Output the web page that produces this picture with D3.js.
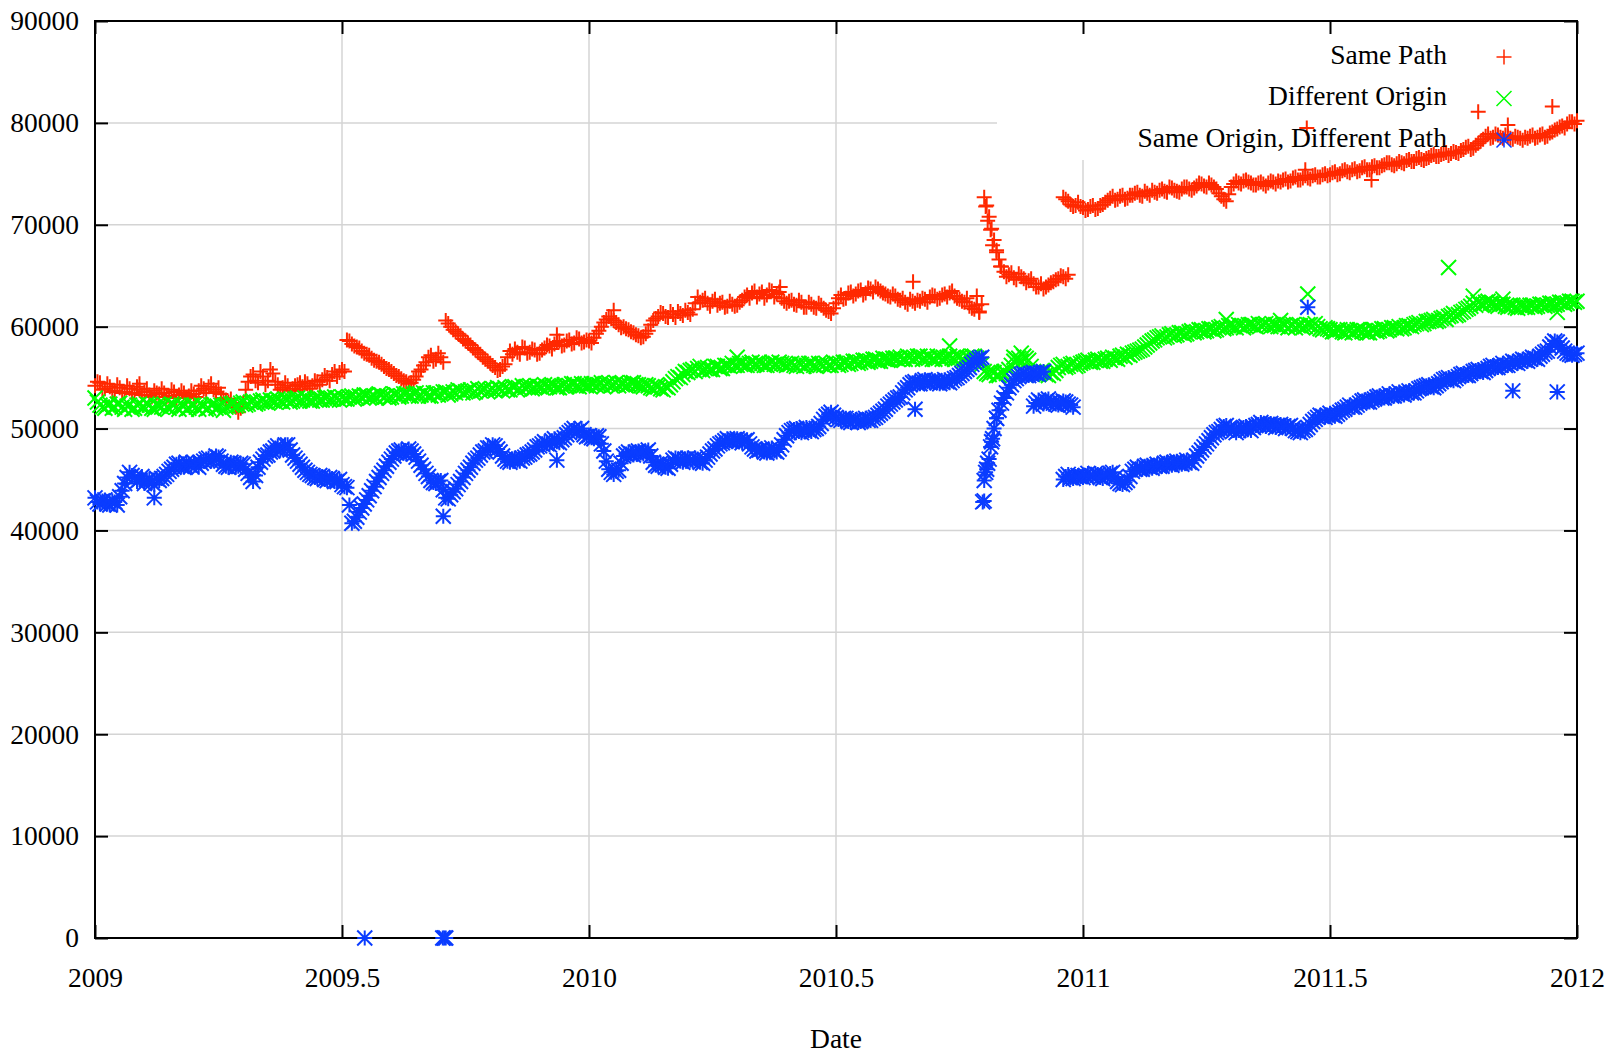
<!DOCTYPE html>
<html>
<head>
<meta charset="utf-8">
<script src="https://cdn.jsdelivr.net/npm/d3@7"></script>
<style>
  html, body { margin: 0; padding: 0; background: #fff; }
  svg { display: block; }
  text { font-family: "Liberation Serif", "DejaVu Serif", serif; fill: #000; }
</style>
</head>
<body>
<svg id="chart" width="1619" height="1052"></svg>
<script>
// runs are read every STEP years; the *Mid arrays are the readings half a step later
var STEP = 0.01;

var xTicks = [2009, 2009.5, 2010, 2010.5, 2011, 2011.5, 2012];
var yTicks = [0, 10000, 20000, 30000, 40000, 50000, 60000, 70000, 80000, 90000];

var seriesNames = ["Same Path", "Different Origin", "Same Origin, Different Path"];
var seriesColors = ["#ff2800", "#00ff00", "#0a3cff"];

// Same Path
var samePath1Start = 2009.00;
var samePath1 = [
  54200, 54500, 53900, 54100, 53700, 54000, 53600, 53900, 53500, 53800,
  53600, 53300, 53700, 53400, 53500, 53200, 53600, 53300, 53500, 53200,
  53400, 53700, 53900, 54100, 53800, 54000, 53000, 52600, 52300, 51600,
  52500, 54600, 55300, 54500, 55100, 54700, 55400, 54300, 54000, 54200,
  53900, 54300, 54100, 54400, 54200, 54600, 54800, 55000, 55300, 55100,
  55800, 58700, 58300, 58000, 57600, 57300, 56900, 56600, 56300, 55900,
  55600, 55200, 54900, 54600, 54500, 55100, 55800, 56500, 57200, 56800,
  57000, 60600, 60000, 59500, 59100, 58600, 58200, 57700, 57300, 56800,
  56400, 56000, 55800, 56300, 57600, 57800, 57300, 57900, 57500, 57700,
  57400, 57900, 58100, 58300, 58600, 58200, 58700, 58400, 58800, 58500,
  58600, 58900, 59600, 60400, 61000, 60600, 60200, 60000, 59700, 59400,
  59100, 59000, 59600, 60600, 61000, 61300, 60900, 61200, 61500, 61100,
  61400, 61700, 62900, 62600, 62300, 62500, 62100, 62400, 62000, 62200,
  62100, 62600, 63100, 63300, 62900, 63400, 63100, 63500, 63200, 62800,
  62300, 62600, 62100, 62400, 61900, 62200, 61800, 62100, 61600, 61300,
  62300, 63100, 62800, 63400, 63200, 63600, 63300, 63700, 63900, 63500,
  63200, 62900, 63000, 62600, 62400, 62700, 62300, 62500, 62700, 62900,
  63000, 62800, 63200, 63300, 63000, 62700, 62400, 62000, 61700, 61500,
  72700, 70800, 68500, 66600, 65400, 65100, 64800, 65200, 64700, 64500,
  64200, 63900, 63700, 64100, 64400, 64700, 64900, 65100
];
var samePath1Mid = [
  54600, 53800, 54400, 53600, 54300, 53500, 54200, 53400, 54100, 53300,
  53900, 53100, 53500, 53900, 53100, 53800, 53000, 53700, 53000, 53700,
  53100, 54200, 53500, 54400, 53600, 53400, 52800, 52900, 52100, 52000,
  53800, 55100, 54700, 55600, 54300, 55800, 54600, 53800, 54500, 53700,
  54200, 53800, 54600, 53900, 54700, 54300, 55200, 54700, 55600, 55500,
  55600, 58600, 58100, 57900, 57400, 57200, 56700, 56500, 56100, 55800,
  55400, 55100, 54700, 54400, 54800, 55600, 56200, 57000, 56600, 57400,
  56500, 60300, 59700, 59300, 58800, 58400, 57900, 57500, 57000, 56600,
  56200, 55700, 56100, 57000, 57300, 57500, 58000, 57400, 57800, 57300,
  57700, 58200, 57800, 58500, 58100, 58600, 58300, 58900, 58400, 58700,
  58400, 59300, 60000, 60700, 60800, 60400, 59900, 59800, 59500, 59200,
  58900, 59300, 60200, 60800, 61400, 61000, 61500, 60900, 61300, 61600,
  61200, 62300, 62400, 62800, 62000, 62700, 62300, 61900, 62500, 62000,
  62400, 62900, 62800, 63500, 63200, 62800, 63600, 62900, 63400, 62500,
  62500, 62200, 62600, 61900, 62400, 61900, 62300, 61800, 61500, 61800,
  62800, 62700, 63300, 63000, 63500, 63100, 63800, 63400, 63700, 63300,
  63000, 63200, 62700, 62800, 62200, 62500, 62600, 62800, 62400, 63100,
  62700, 63100, 62900, 63500, 62800, 62500, 62800, 61800, 62100, 62200,
  71900, 69600, 67500, 65900, 64900, 65300, 64600, 64900, 64300, 64700,
  63900, 64200, 63900, 64300, 64600, 65000, 64700
];
var samePath2Start = 2010.96;
var samePath2 = [
  72700, 72300, 71800, 72200,
  71700, 71500, 71900, 71600, 72000, 72400, 72800, 72500, 72900, 72600,
  72900, 73200, 72800, 73100, 73400, 73100, 73500, 73200, 73600, 73300,
  73500, 73700, 73400, 73800, 74000, 73700, 73900, 73500, 72800, 72300,
  73700, 74300, 74000, 74400, 74100, 73900, 74200, 73800, 74300, 74000,
  74200, 74500, 74300, 74700, 74400, 74800, 74500, 74900, 74700, 75000,
  74900, 75200, 75000, 75400, 75100, 75500, 75300, 75700, 75400, 75800,
  75600, 75900, 76100, 75800, 76200, 76000, 76400, 76200, 76600, 76300,
  76600, 76900, 76700, 77000, 76800, 77200, 77000, 77400, 77700, 77500,
  78000, 78400, 78900, 78600, 78800, 78500, 78700, 78400, 78600, 78300,
  78500, 78800, 78600, 78900, 78700, 79100, 79400, 79700, 79900, 80100,
  80200
];
var samePath2Mid = [
  72500, 72000, 71900, 71800,
  71400, 71800, 71500, 71900, 72200, 72600, 72400, 72800, 72500, 72900,
  73100, 72900, 73300, 72900, 73200, 73400, 73300, 73700, 73400, 73200,
  73700, 73500, 73600, 74100, 73800, 74100, 73700, 73100, 72500, 73000,
  74000, 74100, 74300, 74200, 73900, 74100, 74000, 74100, 74200, 74300,
  74400, 74200, 74600, 74400, 74600, 74600, 74800, 74700, 74900, 74800,
  75100, 74900, 75300, 75200, 75400, 75200, 75600, 75400, 75700, 75600,
  75800, 76100, 75900, 76000, 76100, 76300, 76200, 76500, 76400, 76500,
  76800, 76700, 76900, 77100, 77000, 77100, 77300, 77600, 77400, 77800,
  78200, 78700, 78500, 78900, 78600, 78800, 78500, 78700, 78500, 78600,
  78700, 78500, 78800, 78600, 79000, 79300, 79600, 79500, 80100, 79900
];
var samePathExtra = [
  [2009.09, 54400], [2009.415, 54500], [2009.935, 59200], [2010.05, 61600],
  [2010.387, 63900], [2010.656, 64400], [2010.785, 63000], [2010.79, 61400],
  [2010.803, 71800], [2010.807, 70400], [2010.813, 69500], [2010.817, 68000],
  [2010.825, 67300], [2010.833, 65900], [2011.45, 75400], [2011.584, 74400],
  [2011.453, 79500], [2011.80, 81100], [2011.86, 79800], [2011.95, 81600]
];

// Different Origin
var diffOriginStart = 2009.00;
var diffOrigin = [
  53000, 52300, 52000, 52400, 52100, 52500, 51900, 52300, 52000, 52400,
  52100, 52300, 51900, 52200, 52400, 52000, 52300, 51900, 52200, 52000,
  52300, 51900, 52200, 52000, 52400, 52100, 51800, 52200, 52500, 52300,
  52600, 52400, 52700, 52500, 52800, 52500, 52700, 52900, 52600, 52800,
  52700, 53000, 52800, 52900, 52700, 53000, 52800, 53100, 52900, 53000,
  53100, 52900, 53200, 53000, 53100, 53300, 53100, 53000, 53300, 53200,
  53100, 53300, 53200, 53400, 53200, 53500, 53300, 53400, 53200, 53500,
  53400, 53600, 53400, 53500, 53700, 53600, 53800, 53600, 53700, 53900,
  53800, 53700, 53900, 54000, 53800, 54100, 53900, 54000, 54200, 54000,
  54100, 54300, 54100, 54200, 54000, 54300, 54200, 54400, 54100, 54300,
  54200, 54400, 54300, 54100, 54500, 54300, 54200, 54400, 54300, 54500,
  54300, 54100, 54200, 53900, 54100, 53800, 54000, 54600, 55100, 55300,
  55500, 55800, 55900, 55700, 56000, 55800, 56100, 55900, 56200, 56400,
  56200, 56400, 56200, 56500, 56300, 56400, 56200, 56500, 56300, 56400,
  56200, 56400, 56100, 56300, 56200, 56400, 56100, 56300, 56400, 56200,
  56400, 56300, 56500, 56400, 56600, 56500, 56700, 56600, 56800, 56600,
  56800, 56700, 56900, 57000, 56800, 57000, 56900, 57100, 56900, 57000,
  56800, 57000, 56900, 57100, 56800, 57000, 56700, 56900, 57100, 56800,
  55600, 55300, 55500, 55200, 55600, 55800, 56600, 56900, 57100, 56700,
  55600, 55300, 55500, 55200, 55400, 56000, 56300, 56100, 56400, 56200,
  56500, 56700, 56500, 56800, 56600, 56900, 57000, 56800, 57200, 57300,
  57400, 57600, 57800, 58200, 58600, 58900, 59100, 59000, 59300, 59200,
  59400, 59300, 59600, 59500, 59700, 59600, 59800, 59700, 60000, 59900,
  60100, 59900, 60100, 60000, 60200, 60000, 60100, 60300, 60000, 60200,
  60000, 60200, 60100, 59900, 60100, 60000, 60200, 60300, 59800, 59900,
  59700, 59500, 59700, 59400, 59600, 59500, 59700, 59600, 59400, 59700,
  59600, 59800, 59700, 59900, 60000, 59900, 60100, 60200, 60400, 60300,
  60500, 60700, 60600, 60900, 61000, 61300, 61200, 61500, 61800, 62300,
  62400, 62200, 62500, 62300, 62000, 62200, 61900, 62100, 61800, 62000,
  61900, 62100, 62000, 62200, 62100, 62300, 62200, 62400, 62300, 62500,
  62500
];
var diffOriginMid = [
  52600, 52100, 52300, 52000, 52400, 52100, 52200, 51900, 52300, 52100,
  52400, 52000, 52300, 52100, 52100, 52400, 52100, 52300, 51900, 52300,
  52100, 52300, 51900, 52300, 52000, 52300, 52100, 52400, 52200, 52500,
  52300, 52600, 52400, 52700, 52600, 52800, 52600, 52700, 52900, 52600,
  52900, 52700, 53000, 52700, 52900, 52800, 53000, 52800, 53100, 52800,
  52900, 53100, 52900, 53200, 53300, 53000, 53200, 53400, 53100, 53000,
  53400, 53100, 53400, 53200, 53400, 53200, 53500, 53200, 53500, 53300,
  53600, 53300, 53600, 53800, 53500, 53700, 53500, 53900, 53800, 53600,
  53900, 54000, 53700, 53800, 54100, 53800, 54200, 54100, 53900, 54200,
  54000, 54100, 54300, 54000, 54200, 54100, 54400, 54200, 54400, 54200,
  54400, 54200, 54500, 54400, 54200, 54500, 54400, 54200, 54500, 54300,
  54200, 54300, 54000, 54200, 53900, 54100, 54300, 54900, 55000, 55600,
  55700, 55600, 56100, 55900, 55800, 56100, 55900, 56200, 56100, 56200,
  56400, 56200, 56400, 56300, 56500, 56200, 56400, 56300, 56500, 56300,
  56300, 56200, 56400, 56100, 56400, 56200, 56400, 56200, 56200, 56500,
  56200, 56500, 56300, 56600, 56400, 56700, 56500, 56800, 56600, 56900,
  56700, 56900, 56800, 56800, 57100, 56800, 57100, 56800, 57100, 56800,
  57100, 56800, 57000, 56900, 57100, 56800, 57000, 57100, 56900, 56300,
  55400, 55600, 55200, 55500, 55400, 56200, 56800, 56600, 56900, 56100,
  55400, 55600, 55300, 55500, 55700, 56200, 56000, 56300, 56100, 56400,
  56600, 56500, 56700, 56600, 56800, 56700, 56900, 57100, 57000, 57200,
  57500, 57700, 58000, 58400, 58700, 59000, 58900, 59200, 59100, 59400,
  59200, 59500, 59400, 59700, 59500, 59800, 59600, 59900, 59800, 60100,
  60000, 60200, 59900, 60200, 60100, 60300, 60200, 60100, 60200, 60000,
  60200, 59900, 60200, 60100, 59900, 60200, 60100, 60000, 59700, 59800,
  59500, 59700, 59500, 59700, 59400, 59700, 59500, 59400, 59700, 59500,
  59800, 59600, 59900, 59800, 59800, 60100, 60000, 60300, 60200, 60500,
  60600, 60500, 60800, 60700, 61100, 61100, 61400, 61700, 62000, 62100,
  62200, 62400, 62300, 62100, 62200, 62000, 62100, 61900, 62100, 61900,
  62100, 61900, 62200, 62000, 62300, 62100, 62400, 62200, 62500, 62400
];
var diffOriginExtra = [
  [2010.30, 57000], [2010.73, 58100], [2010.86, 57000], [2010.875, 57400],
  [2011.29, 60700], [2011.40, 60600], [2011.455, 63200], [2011.74, 65800],
  [2011.79, 63000], [2011.85, 62700], [2011.96, 61400]
];

// Same Origin, Different Path
var sameOrigin1Start = 2009.00;
var sameOrigin1 = [
  43200, 42600, 43000, 42500, 42800, 43300, 44600, 45700, 45200, 45000,
  44600, 45000, 44500, 44900, 45300, 45800, 46200, 46600, 46200, 46500,
  46700, 46200, 46800, 47100, 46900, 47200, 46500, 46200, 46600, 46300,
  46500, 45600, 44800, 46200, 47000, 47400, 47800, 48300, 48000, 48400,
  47400, 46800, 46200, 45700, 45400, 45100, 45300, 44900, 45100, 44800,
  44500, 44200, 40700, 41300, 42200, 43000, 43900, 44800, 45600, 46300,
  47000, 47600, 47900, 47500, 47800, 47200, 46400, 45600, 44900, 44600,
  44900, 43200, 43500, 44100, 44800, 45600, 46200, 46900, 47400, 47800,
  48100, 48300, 47700, 47000, 46700, 47100, 46800, 47200, 47500, 47900,
  48300, 48700, 48400, 49000, 48600, 49100, 49600, 50000, 49800, 49400,
  49300, 49000, 49200, 47800, 46000, 45500, 45900, 47300, 47700, 47400,
  47800, 47500, 47900, 46700, 46300, 46500, 46100, 46900, 47000, 46700,
  47100, 46800, 47000, 46600, 47200, 47800, 48300, 48600, 49000, 48700,
  49000, 48600, 48900, 48200, 47800, 48000, 47600, 48100, 47700, 48400,
  49300, 49800, 50000, 49600, 50100, 49700, 50000, 50500, 51200, 51600,
  51100, 50800, 51000, 50600, 50900, 50700, 51000, 50800, 51100, 51500,
  51900, 52400, 52800, 53100, 53800, 54300, 54600, 54400, 54800, 54500,
  54700, 54400, 54800, 54500, 54900, 55200, 55600, 56000, 56500, 56900,
  42900, 47000, 50000, 51800, 53000, 54000, 54700, 55100, 55400, 55200,
  55500, 55300, 55600
];
var sameOrigin1Mid = [
  42800, 42900, 42600, 42900, 42500, 43900, 45200, 45400, 44800, 45300,
  44900, 44700, 45100, 45100, 45500, 46000, 46500, 46300, 46700, 46300,
  46400, 46600, 47000, 46800, 47300, 46800, 46300, 46700, 46200, 46600,
  46000, 45200, 45400, 46700, 47300, 47700, 48100, 47900, 48400, 47900,
  47100, 46500, 45900, 45500, 45200, 45400, 45000, 45200, 44800, 45000,
  44300, 42500, 40900, 41800, 42600, 43400, 44300, 45200, 45900, 46700,
  47300, 47800, 47600, 48000, 47500, 46800, 46000, 45300, 44700, 44800,
  44000, 43100, 43800, 44500, 45200, 45900, 46600, 47100, 47700, 48100,
  48400, 48000, 47300, 46800, 47000, 46900, 47100, 47400, 47700, 48200,
  48500, 48500, 48800, 48700, 48900, 49400, 49800, 49700, 50000, 49200,
  49100, 49300, 48500, 46800, 45700, 45800, 46600, 47500, 47500, 47700,
  47600, 47700, 47300, 46400, 46600, 46200, 46500, 47100, 46800, 47000,
  46900, 47100, 46700, 46900, 47500, 48000, 48500, 48800, 48800, 48900,
  48800, 48800, 48500, 48000, 47900, 47700, 47900, 47800, 48000, 48900,
  49600, 49900, 49700, 49900, 49800, 49900, 50200, 50900, 51400, 51300,
  50900, 51000, 50700, 50800, 50600, 50900, 50800, 51000, 51300, 51700,
  52200, 52600, 53000, 53500, 54000, 54500, 54400, 54700, 54600, 54700,
  54500, 54600, 54600, 54700, 55000, 55400, 55800, 56300, 56700, 57000,
  46000, 48700, 51000, 52500, 53500, 54300, 54900, 55300, 55200, 55400,
  55400, 55500
];
var sameOrigin2Start = 2010.90;
var sameOrigin2 = [52200, 52800, 52400, 52900, 52500, 52300, 52700, 52400, 52100];
var sameOrigin2Mid = [52500, 52600, 52700, 52600, 52400, 52500, 52600, 52300];
var sameOrigin3Start = 2010.96;
var sameOrigin3 = [
  45000, 45500, 45100, 45400,
  45200, 45600, 45300, 45500, 45100, 45400, 45700, 44800, 44500, 44900,
  45800, 46200, 46000, 46400, 46100, 46500, 46300, 46700, 46400, 46800,
  46500, 46900, 46600, 47300, 47900, 48500, 49100, 49600, 49900, 50300,
  50000, 49600, 49900, 50200, 49800, 50300, 50600, 50200, 50500, 50100,
  50400, 50000, 50300, 49800, 49600, 49900, 50400, 50900, 51300, 51100,
  51500, 51200, 51600, 51900, 52300, 52100, 52500, 52800, 52600, 52900,
  53200, 53000, 53400, 53200, 53600, 53300, 53700, 53500, 53900, 54100,
  54300, 54000, 54400, 54800, 55000, 54700, 55100, 55400, 55200, 55600,
  55800, 55500, 55900, 56200, 56000, 56400, 56200, 56600, 56400, 56800,
  56600, 57000, 56800, 57300, 57600, 58300, 58500, 57900, 57400, 57200,
  57400
];
var sameOrigin3Mid = [
  45300, 45200, 45300, 45300,
  45400, 45400, 45600, 45200, 45300, 45600, 45200, 44600, 44700, 45300,
  46000, 46000, 46300, 46200, 46300, 46300, 46600, 46500, 46700, 46600,
  46700, 46700, 46900, 47600, 48200, 48800, 49400, 49700, 50200, 50000,
  49800, 49800, 50100, 50000, 50100, 50400, 50400, 50400, 50300, 50300,
  50200, 50200, 50000, 49700, 49800, 50100, 50700, 51100, 51200, 51300,
  51300, 51400, 51800, 52100, 52100, 52300, 52700, 52600, 52800, 53100,
  53000, 53200, 53200, 53400, 53400, 53500, 53500, 53700, 54000, 54200,
  54100, 54200, 54600, 54900, 54800, 54900, 55300, 55200, 55400, 55700,
  55600, 55700, 56100, 56000, 56200, 56200, 56400, 56500, 56600, 56700,
  56800, 56900, 57100, 57500, 58000, 58600, 58200, 57600, 57300, 57300
];
var sameOriginExtra = [
  [2009.12, 43200], [2009.705, 41400], [2009.935, 46900], [2010.66, 51900],
  [2010.797, 42800], [2010.80, 44900], [2010.803, 45700], [2010.807, 46600],
  [2010.813, 48200], [2010.817, 49000], [2010.825, 51000],
  [2011.455, 61900], [2011.87, 53700], [2011.96, 53600],
  [2009.546, 0], [2009.704, 0], [2009.707, 0], [2009.71, 0]
];

// a run and its half-step readings, interleaved in date order
function runPoints(start, values, mids) {
  var points = [];
  values.forEach(function(v, i) {
    points.push({t: start + i * STEP, v: v});
    if (i < mids.length) points.push({t: start + (i + 0.5) * STEP, v: mids[i]});
  });
  return points;
}
function extraPoints(pairs) {
  return pairs.map(function(p) { return {t: p[0], v: p[1]}; });
}

var series = [
  runPoints(samePath1Start, samePath1, samePath1Mid)
    .concat(runPoints(samePath2Start, samePath2, samePath2Mid), extraPoints(samePathExtra)),
  runPoints(diffOriginStart, diffOrigin, diffOriginMid).concat(extraPoints(diffOriginExtra)),
  runPoints(sameOrigin1Start, sameOrigin1, sameOrigin1Mid)
    .concat(runPoints(sameOrigin2Start, sameOrigin2, sameOrigin2Mid),
            runPoints(sameOrigin3Start, sameOrigin3, sameOrigin3Mid),
            extraPoints(sameOriginExtra))
];

// gnuplot point types 1, 2, 3
var h = 7.5;
var plus = "M" + (-h) + ",0H" + h + "M0," + (-h) + "V" + h;
var cross = "M" + (-h) + "," + (-h) + "L" + h + "," + h + "M" + (-h) + "," + h + "L" + h + "," + (-h);
var symbols = [plus, cross, plus + cross];

var plotLeft = 95, plotRight = 1577, plotTop = 21, plotBottom = 938;

var x = d3.scaleLinear().domain([2009, 2012]).range([plotLeft, plotRight]);
var y = d3.scaleLinear().domain([0, 90000]).range([plotBottom, plotTop]);

var svg = d3.select("#chart");

// grid
var grid = svg.append("g").attr("stroke", "#d4d4d4").attr("stroke-width", 1.5);
grid.selectAll("line.gx").data(xTicks.slice(1, -1)).join("line")
  .attr("x1", function(d) { return x(d); }).attr("x2", function(d) { return x(d); })
  .attr("y1", plotTop).attr("y2", plotBottom);
grid.selectAll("line.gy").data(yTicks.slice(1, -1)).join("line")
  .attr("x1", plotLeft).attr("x2", plotRight)
  .attr("y1", function(d) { return y(d); }).attr("y2", function(d) { return y(d); });

// the key sits on an opaque box
svg.append("rect")
  .attr("x", 997).attr("y", plotTop).attr("width", plotRight - 997).attr("height", 139)
  .attr("fill", "#fff");

// axes, ticks mirrored on all four sides
function styleAxis(g) {
  g.select(".domain").remove();
  g.selectAll(".tick line").attr("stroke", "#000").attr("stroke-width", 2);
  g.selectAll(".tick text").attr("font-size", "27.5px").attr("font-family", null);
}
svg.append("g").attr("transform", "translate(0," + plotBottom + ")")
  .call(d3.axisBottom(x).tickValues(xTicks).tickSize(-13).tickPadding(29).tickFormat(function(d) { return d; }))
  .call(styleAxis);
svg.append("g").attr("transform", "translate(0," + plotTop + ")")
  .call(d3.axisTop(x).tickValues(xTicks).tickSize(-13).tickFormat(""))
  .call(styleAxis);
svg.append("g").attr("transform", "translate(" + plotLeft + ",0)")
  .call(d3.axisLeft(y).tickValues(yTicks).tickSize(-13).tickPadding(16).tickFormat(function(d) { return d; }))
  .call(styleAxis);
svg.append("g").attr("transform", "translate(" + plotRight + ",0)")
  .call(d3.axisRight(y).tickValues(yTicks).tickSize(-13).tickFormat(""))
  .call(styleAxis);

svg.append("rect")
  .attr("x", plotLeft).attr("y", plotTop)
  .attr("width", plotRight - plotLeft).attr("height", plotBottom - plotTop)
  .attr("fill", "none").attr("stroke", "#000").attr("stroke-width", 2);

svg.append("text")
  .attr("x", 836).attr("y", 1038).attr("text-anchor", "middle").attr("dy", "0.35em")
  .attr("font-size", "27.5px").text("Date");

// data
series.forEach(function(points, k) {
  svg.append("g")
    .attr("fill", "none").attr("stroke", seriesColors[k]).attr("stroke-width", 2)
    .selectAll("path").data(points).join("path")
      .attr("transform", function(d) { return "translate(" + x(d.t) + "," + y(d.v) + ")"; })
      .attr("d", symbols[k]);
});

// key
var key = svg.append("g");
seriesNames.forEach(function(name, k) {
  var cy = 55 + k * 41.5;
  key.append("text")
    .attr("x", 1447).attr("y", cy).attr("dy", "0.32em").attr("text-anchor", "end")
    .attr("font-size", "27.5px").text(name);
  key.append("path")
    .attr("transform", "translate(1504," + (cy + 2) + ")")
    .attr("d", symbols[k]).attr("fill", "none")
    .attr("stroke", seriesColors[k]).attr("stroke-width", 1.5);
});
</script>
</body>
</html>
